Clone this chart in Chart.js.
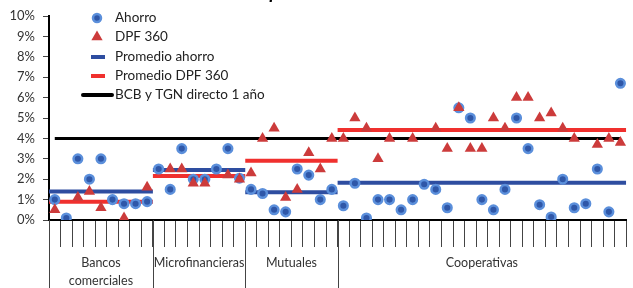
<!DOCTYPE html>
<html>
<head>
<meta charset="utf-8">
<script src="https://cdn.jsdelivr.net/npm/chart.js@4.4.0/dist/chart.umd.min.js"></script>
<style>
  html, body { margin: 0; padding: 0; background: #fff; }
  #wrap { width: 633px; height: 288px; position: relative; }
</style>
</head>
<body>
<div id="wrap"><canvas id="mycanvas"></canvas></div>
<script>
// groups of institutions along the x axis
var groups = [['Bancos', 'comerciales'], ['Microfinancieras'], ['Mutuales'], ['Cooperativas']];
var groupSizes = [9, 8, 8, 25];

// rates in %, one per institution
var ahorro = [
  1.0, 0.1, 3.0, 2.0, 3.0, 1.0, 0.8, 0.8, 0.9,          // bancos
  2.5, 1.5, 3.5, 2.0, 2.0, 2.5, 3.5, 2.05,              // micro
  1.5, 1.3, 0.5, 0.4, 2.5, 2.2, 1.0, 1.5,               // mutuales
  0.7, 1.8, 0.1, 1.0, 1.0, 0.5, 1.0, 1.75, 1.5, 0.6,    // cooperativas
  5.5, 5.0, 1.0, 0.5, 1.5, 5.0, 3.5, 0.75, 0.15, 2.0,
  0.6, 0.8, 2.5, 0.4, 6.7
];
var dpf360 = [
  0.5, null, 1.1, 1.4, 0.6, null, 0.1, null, 1.6,
  null, 2.5, 2.5, 1.8, 1.8, null, 2.2, 2.0,
  2.3, 4.0, 4.5, 1.1, 1.5, 3.3, 2.5, 4.0,
  4.0, 5.0, 4.5, 3.0, 4.0, null, 4.0, null, 4.5, 3.5,
  5.5, 3.5, 3.5, 5.0, 4.5, 6.0, 6.0, 5.0, 5.25, 4.5,
  4.0, null, 3.7, 4.0, 3.8
];
var promAhorro = [1.4, 2.45, 1.36, 1.83];
var promDpf = [0.9, 2.16, 2.9, 4.41];
var bcbTgn = 4;

var FONT = 'Lato, "Open Sans", sans-serif';
var total = ahorro.length;

// group boundaries
var bounds = [0];
for (var g = 0; g < groupSizes.length; g++) bounds.push(bounds[g] + groupSizes[g]);

function points(arr) {
  var out = [];
  for (var i = 0; i < arr.length; i++) {
    if (arr[i] !== null) out.push({x: i + 0.5, y: arr[i]});
  }
  return out;
}
function steps(avgs) {
  var out = [];
  for (var g = 0; g < avgs.length; g++) {
    out.push({x: bounds[g], y: avgs[g]});
    out.push({x: bounds[g + 1], y: avgs[g]});
    out.push({x: bounds[g + 1], y: null});
  }
  return out;
}

var blue = '#2F57A8', blueRing = '#5B8FDB', red = '#CC3B3B';
var avgBlue = '#2E4DA0', avgRed = '#F0302E';

// legend, group labels, title
var extras = {
  id: 'extras',
  afterDraw: function(chart) {
    var ctx = chart.ctx;
    var xs = chart.scales.x, area = chart.chartArea;
    ctx.save();

    // title (cut off at the top edge)
    ctx.fillStyle = '#000';
    ctx.font = 'italic bold 19px ' + FONT;
    ctx.textAlign = 'center';
    ctx.textBaseline = 'alphabetic';
    ctx.fillText('Septiembre', 296, -1);

    // group separators and labels
    ctx.strokeStyle = '#444';
    ctx.lineWidth = 1;
    for (var g = 0; g < bounds.length - 1; g++) {
      var px = Math.round(xs.getPixelForValue(bounds[g])) + 0.5;
      ctx.beginPath();
      ctx.moveTo(px, area.bottom);
      ctx.lineTo(px, chart.height);
      ctx.stroke();
    }
    ctx.fillStyle = '#333';
    ctx.font = '12.5px ' + FONT;
    ctx.textBaseline = 'middle';
    for (var g = 0; g < groups.length; g++) {
      var cx = (xs.getPixelForValue(bounds[g]) + xs.getPixelForValue(bounds[g + 1])) / 2;
      for (var l = 0; l < groups[g].length; l++) {
        ctx.fillText(groups[g][l], cx, 263 + l * 18);
      }
    }

    // legend
    var ds = chart.data.datasets;
    var lx = 97, tx = 115, ys = [18, 37, 57, 76, 95];
    ctx.textAlign = 'left';
    ctx.font = '13.5px ' + FONT;
    // circle
    ctx.beginPath();
    ctx.arc(lx, ys[0], 4, 0, Math.PI * 2);
    ctx.fillStyle = blue; ctx.fill();
    ctx.lineWidth = 2.5; ctx.strokeStyle = blueRing; ctx.stroke();
    // triangle
    var r = 6.5;
    ctx.beginPath();
    ctx.moveTo(lx, ys[1] - r);
    ctx.lineTo(lx + r * 0.866, ys[1] + r * 0.5);
    ctx.lineTo(lx - r * 0.866, ys[1] + r * 0.5);
    ctx.closePath();
    ctx.fillStyle = red; ctx.fill();
    // dashes
    ctx.lineWidth = 4;
    ctx.strokeStyle = avgBlue;
    ctx.beginPath(); ctx.moveTo(91, ys[2]); ctx.lineTo(105, ys[2]); ctx.stroke();
    ctx.strokeStyle = avgRed;
    ctx.beginPath(); ctx.moveTo(91, ys[3]); ctx.lineTo(105, ys[3]); ctx.stroke();
    ctx.strokeStyle = '#000';
    ctx.lineCap = 'round';
    ctx.beginPath(); ctx.moveTo(83, ys[4]); ctx.lineTo(112, ys[4]); ctx.stroke();
    ctx.fillStyle = '#222';
    for (var k = 0; k < ds.length; k++) {
      ctx.fillText(ds[k].label, tx, ys[k]);
    }
    ctx.restore();
  }
};

var ctx = document.getElementById('mycanvas');
new Chart(ctx, {
  type: 'scatter',
  data: {
    datasets: [
      {
        label: 'Ahorro',
        data: points(ahorro),
        pointStyle: 'circle',
        pointRadius: 4.3,
        backgroundColor: blue,
        borderColor: blueRing,
        borderWidth: 2.5,
        order: 1
      },
      {
        label: 'DPF 360',
        data: points(dpf360),
        pointStyle: 'triangle',
        pointRadius: 6.5,
        backgroundColor: red,
        borderColor: red,
        borderWidth: 0,
        order: 0
      },
      {
        label: 'Promedio ahorro',
        data: steps(promAhorro),
        showLine: true,
        pointRadius: 0,
        borderColor: avgBlue,
        borderWidth: 4,
        order: 2
      },
      {
        label: 'Promedio DPF 360',
        data: steps(promDpf),
        showLine: true,
        pointRadius: 0,
        borderColor: avgRed,
        borderWidth: 4,
        order: 2
      },
      {
        label: 'BCB y TGN directo 1 año',
        data: [{x: 0.5, y: bcbTgn}, {x: total - 0.5, y: bcbTgn}],
        showLine: true,
        pointRadius: 0,
        borderColor: '#000',
        borderWidth: 3,
        order: 3
      }
    ]
  },
  options: {
    responsive: true,
    maintainAspectRatio: false,
    devicePixelRatio: 1,
    animation: false,
    layout: { padding: { top: 16, right: 1, left: 0, bottom: 0 } },
    plugins: { legend: { display: false }, tooltip: { enabled: false } },
    scales: {
      x: {
        type: 'linear',
        min: 0,
        max: total,
        ticks: { display: false, stepSize: 1, autoSkip: false },
        grid: { drawOnChartArea: false, tickLength: 27, color: '#444', lineWidth: 1 },
        border: { display: true, color: '#000', width: 2 },
        afterFit: function(scale) { scale.height = 68; }
      },
      y: {
        min: 0,
        max: 10,
        ticks: {
          stepSize: 1,
          padding: 8,
          color: '#333',
          font: { family: FONT, size: 13 },
          callback: function(v) { return v + '%'; }
        },
        grid: { drawOnChartArea: false, tickLength: 6, color: '#444' },
        border: { display: true, color: '#000', width: 2 },
        afterFit: function(scale) { scale.width = 49; }
      }
    }
  },
  plugins: [extras]
});
</script>
</body>
</html>
